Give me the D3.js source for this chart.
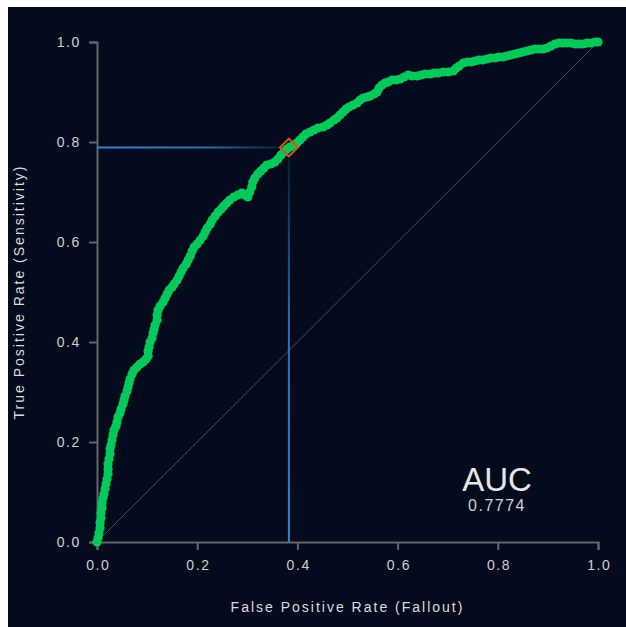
<!DOCTYPE html>
<html>
<head>
<meta charset="utf-8">
<script src="https://cdn.jsdelivr.net/npm/d3@7"></script>
<style>
  body { margin: 0; background: #fff; }
  text { font-family: "Liberation Sans", Arial, sans-serif; }
</style>
</head>
<body>
<div id="roc"></div>
<script>
// ROC curve points (false positive rate, true positive rate)
var fpr = [0.000,0.002,0.004,0.006,0.006,0.008,0.008,0.010,0.010,0.012,0.014,0.016,0.018,0.020,0.022,0.022,
  0.022,0.024,0.026,0.026,0.028,0.030,0.032,0.034,0.038,0.040,0.042,0.046,0.048,0.052,0.054,0.056,0.060,
  0.062,0.064,0.066,0.070,0.074,0.080,0.086,0.092,0.098,0.102,0.102,0.104,0.106,0.110,0.112,0.114,0.116,
  0.120,0.120,0.122,0.126,0.132,0.136,0.140,0.144,0.150,0.154,0.160,0.164,0.168,0.172,0.178,0.182,0.186,
  0.190,0.194,0.200,0.206,0.212,0.216,0.220,0.226,0.230,0.236,0.242,0.248,0.253,0.259,0.265,0.273,0.281,
  0.289,0.295,0.301,0.305,0.309,0.311,0.315,0.321,0.327,0.333,0.339,0.347,0.355,0.361,0.367,0.373,0.379,
  0.385,0.393,0.399,0.405,0.411,0.417,0.425,0.433,0.441,0.451,0.459,0.465,0.473,0.479,0.485,0.491,0.497,
  0.503,0.511,0.519,0.525,0.531,0.539,0.545,0.553,0.559,0.563,0.569,0.575,0.581,0.589,0.597,0.605,0.613,
  0.621,0.629,0.639,0.647,0.655,0.665,0.673,0.681,0.691,0.701,0.711,0.717,0.723,0.731,0.739,0.747,0.754,
  0.762,0.770,0.778,0.786,0.794,0.802,0.810,0.818,0.826,0.834,0.842,0.850,0.858,0.866,0.874,0.882,0.890,
  0.898,0.906,0.914,0.922,0.930,0.938,0.946,0.954,0.962,0.970,0.978,0.986,0.994,1.000];
var tpr = [0.000,0.008,0.018,0.028,0.038,0.048,0.058,0.068,0.078,0.088,0.096,0.106,0.116,0.126,0.136,0.146,
  0.156,0.166,0.176,0.186,0.194,0.204,0.214,0.224,0.232,0.240,0.250,0.258,0.266,0.276,0.284,0.292,0.302,
  0.310,0.318,0.326,0.336,0.344,0.350,0.356,0.360,0.366,0.372,0.382,0.390,0.400,0.408,0.418,0.426,0.434,
  0.444,0.454,0.464,0.472,0.480,0.488,0.496,0.504,0.510,0.516,0.524,0.532,0.540,0.548,0.556,0.564,0.572,
  0.582,0.590,0.596,0.604,0.612,0.620,0.628,0.636,0.644,0.652,0.660,0.666,0.672,0.678,0.684,0.690,0.694,
  0.698,0.694,0.690,0.700,0.710,0.720,0.728,0.736,0.742,0.748,0.754,0.756,0.760,0.766,0.774,0.780,0.786,
  0.790,0.794,0.798,0.804,0.810,0.816,0.820,0.824,0.828,0.830,0.834,0.838,0.844,0.848,0.854,0.860,0.866,
  0.870,0.874,0.878,0.884,0.888,0.890,0.892,0.896,0.900,0.908,0.914,0.918,0.920,0.924,0.924,0.926,0.930,
  0.934,0.932,0.932,0.934,0.936,0.936,0.938,0.938,0.940,0.940,0.942,0.948,0.952,0.958,0.960,0.960,0.962,
  0.964,0.964,0.966,0.968,0.968,0.970,0.970,0.972,0.974,0.976,0.978,0.980,0.982,0.984,0.986,0.986,0.986,
  0.988,0.992,0.996,0.998,0.998,0.998,0.998,0.996,0.996,0.996,0.998,0.998,1.000,1.000];

// chosen threshold and area under curve
var cutoff = [0.383, 0.789];
var aucValue = "0.7774";
var xTicks = [0, 0.2, 0.4, 0.6, 0.8, 1.0];
var yTicks = [0, 0.2, 0.4, 0.6, 0.8, 1.0];

var svgWidth = 626;
var svgHeight = 627;

var margin = { top: 42, right: 28, bottom: 85, left: 97 };
var width = 501;
var height = 500;

var svg = d3.select("#roc")
  .append("svg")
  .attr("width", svgWidth)
  .attr("height", svgHeight);

// dark panel
svg.append("rect")
  .attr("x", 8)
  .attr("y", 7)
  .attr("width", svgWidth - 8)
  .attr("height", svgHeight - 7)
  .attr("fill", "#040b1c");

var defs = svg.append("defs");

var hGrad = defs.append("linearGradient")
  .attr("id", "hGrad")
  .attr("x1", "0%").attr("x2", "100%").attr("y1", "0%").attr("y2", "0%");
hGrad.append("stop").attr("offset", "0%").attr("stop-color", "#2f86d0").attr("stop-opacity", 1);
hGrad.append("stop").attr("offset", "55%").attr("stop-color", "#2f86d0").attr("stop-opacity", 0.85);
hGrad.append("stop").attr("offset", "100%").attr("stop-color", "#2f86d0").attr("stop-opacity", 0.1);

var vGrad = defs.append("linearGradient")
  .attr("id", "vGrad")
  .attr("x1", "0%").attr("x2", "0%").attr("y1", "100%").attr("y2", "0%");
vGrad.append("stop").attr("offset", "0%").attr("stop-color", "#2f86d0").attr("stop-opacity", 1);
vGrad.append("stop").attr("offset", "55%").attr("stop-color", "#2f86d0").attr("stop-opacity", 0.85);
vGrad.append("stop").attr("offset", "100%").attr("stop-color", "#2f86d0").attr("stop-opacity", 0.1);

var chart = svg.append("g")
  .attr("transform", `translate(${margin.left},${margin.top})`);

var x = d3.scaleLinear().domain([0, 1]).range([0, width]);
var y = d3.scaleLinear().domain([0, 1]).range([height, 0]);

// axes
var xAxis = chart.append("g")
  .attr("transform", `translate(0,${height})`)
  .call(d3.axisBottom(x).tickValues(xTicks).tickFormat(d3.format(".1f")).tickSize(8).tickPadding(10));

var yAxis = chart.append("g")
  .call(d3.axisLeft(y).tickValues(yTicks).tickFormat(d3.format(".1f")).tickSize(8).tickPadding(8));

[xAxis, yAxis].forEach(function(a) {
  a.selectAll("path, line").attr("stroke", "#666").attr("stroke-width", 2);
  a.selectAll("text")
    .attr("fill", "#cfcfcf")
    .style("font-size", "14px")
    .style("letter-spacing", "1.6px");
});
// letter spacing pushes the x labels right, pull them back
xAxis.selectAll("text").attr("dx", "0.8px");

// chance diagonal
chart.append("line")
  .attr("x1", x(0)).attr("y1", y(0))
  .attr("x2", x(1)).attr("y2", y(1))
  .attr("stroke", "#4a4f5c")
  .attr("stroke-width", 1);

// guide lines to the cutoff point
chart.append("rect")
  .attr("x", x(0))
  .attr("y", y(cutoff[1]) - 1)
  .attr("width", x(cutoff[0]) - x(0))
  .attr("height", 2)
  .attr("fill", "url(#hGrad)");

chart.append("rect")
  .attr("x", x(cutoff[0]) - 1)
  .attr("y", y(cutoff[1]))
  .attr("width", 2)
  .attr("height", y(0) - y(cutoff[1]))
  .attr("fill", "url(#vGrad)");

// curve dots
var points = fpr.map((d, i) => ({ fpr: d, tpr: tpr[i] }));

chart.selectAll("circle")
  .data(points)
  .enter()
  .append("circle")
  .attr("cx", d => x(d.fpr))
  .attr("cy", d => y(d.tpr))
  .attr("r", 4.6)
  .attr("fill", "#06c95b");

// cutoff marker
chart.append("path")
  .attr("d", d3.symbol().type(d3.symbolSquare).size(160))
  .attr("transform", `translate(${x(cutoff[0])},${y(cutoff[1])}) rotate(45)`)
  .attr("fill", "none")
  .attr("stroke", "#d9531e")
  .attr("stroke-width", 2);

// AUC label
chart.append("text")
  .attr("x", 400)
  .attr("y", 449)
  .attr("text-anchor", "middle")
  .attr("fill", "#e6e6e6")
  .style("font-size", "33px")
  .text("AUC");

chart.append("text")
  .attr("x", 400)
  .attr("y", 469)
  .attr("text-anchor", "middle")
  .attr("fill", "#cfcfcf")
  .style("font-size", "16px")
  .style("letter-spacing", "1.5px")
  .text(aucValue);

// axis titles
svg.append("text")
  .attr("x", margin.left + width / 2)
  .attr("y", 612)
  .attr("text-anchor", "middle")
  .attr("fill", "#dcdcdc")
  .style("font-size", "14px")
  .style("letter-spacing", "2px")
  .text("False Positive Rate (Fallout)");

svg.append("text")
  .attr("transform", `translate(24,${margin.top + height / 2}) rotate(-90)`)
  .attr("text-anchor", "middle")
  .attr("fill", "#dcdcdc")
  .style("font-size", "14px")
  .style("letter-spacing", "2px")
  .text("True Positive Rate (Sensitivity)");
</script>
</body>
</html>
